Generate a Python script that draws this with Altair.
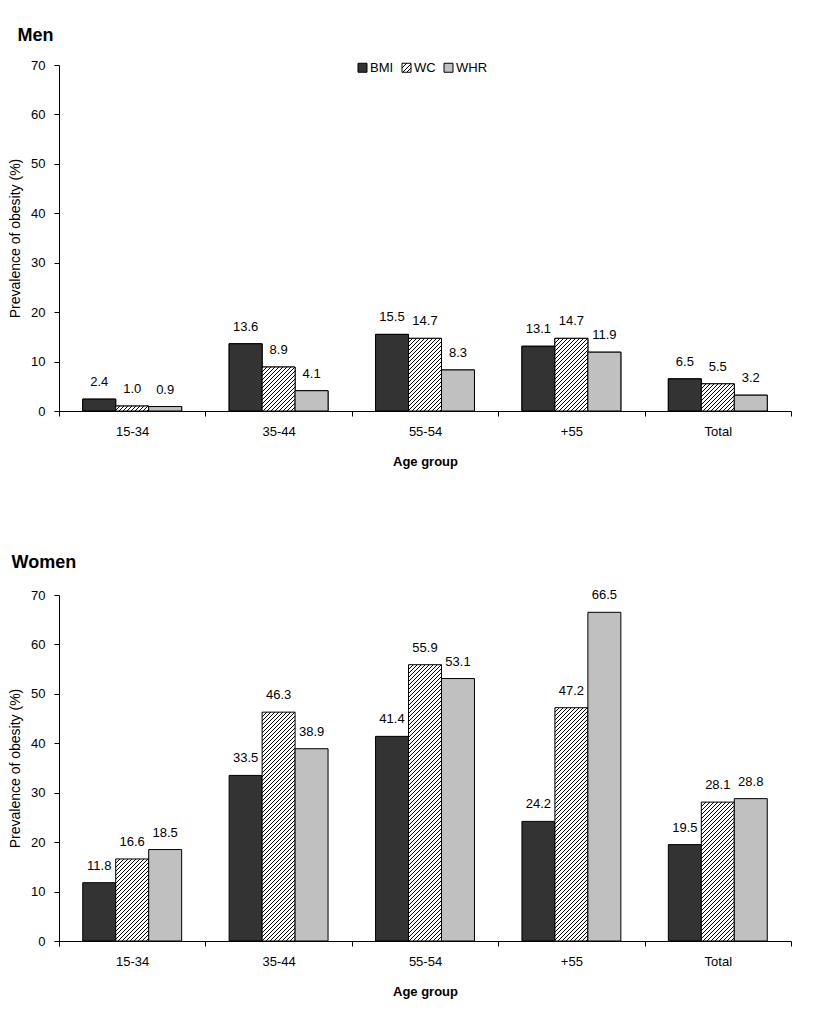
import math
import altair as alt

# ---------------- data ----------------
categories = ["15-34", "35-44", "55-54", "+55", "Total"]
metrics = ["BMI", "WC", "WHR"]

men_bmi = [2.4, 13.6, 15.5, 13.1, 6.5]
men_wc = [1.0, 8.9, 14.7, 14.7, 5.5]
men_whr = [0.9, 4.1, 8.3, 11.9, 3.2]

women_bmi = [11.8, 33.5, 41.4, 24.2, 19.5]
women_wc = [16.6, 46.3, 55.9, 47.2, 28.1]
women_whr = [18.5, 38.9, 53.1, 66.5, 28.8]

y_ticks = [0, 10, 20, 30, 40, 50, 60, 70]

# ---------------- styling ----------------
FONT = "Liberation Sans"
W, H = 732, 346
YMAX = 70
OFFSET_PAD = 0.72
BAR_W = (W / len(categories)) / (len(metrics) + 2 * OFFSET_PAD)
HATCH_STEP = 4           # px between hatch lines, measured horizontally
HATCH_INK = 0.25         # fraction of each period that is ink (about 1px)
COLORS = {"BMI": "#333333", "WC": "#ffffff", "WHR": "#c0c0c0"}


def stripes(n):
    stops = []
    for k in range(n):
        a = k / n
        b = (k + HATCH_INK) / n
        c = (k + 1) / n
        stops += [
            {"offset": a, "color": "#000000"},
            {"offset": b, "color": "#000000"},
            {"offset": b, "color": "#ffffff"},
            {"offset": c, "color": "#ffffff"},
        ]
    return stops


def hatch(value):
    # diagonal "/" hatching as a striped gradient sized to the bar's box:
    # t = (x + y) / L with L a whole number of hatch periods
    w = BAR_W
    h = max(value * H / YMAX, 0.5)
    n = math.ceil((w + h) / HATCH_STEP)
    L = n * HATCH_STEP
    c = L / (w * w + h * h)
    return {"gradient": "linear", "x1": 0, "y1": 0, "x2": w * c, "y2": h * c,
            "stops": stripes(n)}


legend_hatch = {"gradient": "linear", "id": "wcleg", "x1": 0, "y1": 0,
                "x2": 1, "y2": 1, "stops": stripes(4)}


def rows_for(bmi, wc, whr):
    rows = []
    for i, cat in enumerate(categories):
        for m, v in zip(metrics, (bmi[i], wc[i], whr[i])):
            rows.append({"category": cat, "metric": m, "value": v,
                         "paint": hatch(v) if m == "WC" else COLORS[m]})
    return rows


def panel(rows, title, dx, title_offset, with_legend):
    base = alt.Chart(alt.Data(values=rows)).encode(
        x=alt.X("category:N", sort=categories,
                scale=alt.Scale(paddingInner=0, paddingOuter=0),
                axis=alt.Axis(title="Age group", labelAngle=0, tickBand="extent",
                              tickSize=5, labelPadding=9, titlePadding=17,
                              titleFontWeight="bold", titleFontSize=13,
                              labelFontSize=13, domainColor="black",
                              tickColor="black", labelColor="black",
                              titleColor="black", grid=False)),
        xOffset=alt.XOffset("metric:N", sort=metrics,
                            scale=alt.Scale(paddingOuter=OFFSET_PAD, paddingInner=0)),
        y=alt.Y("value:Q", scale=alt.Scale(domain=[0, YMAX], nice=False),
                axis=alt.Axis(values=y_ticks, title="Prevalence of obesity (%)",
                              tickSize=5, labelPadding=9, titlePadding=8,
                              titleFontWeight="normal", titleFontSize=14,
                              labelFontSize=13, domainColor="black",
                              tickColor="black", labelColor="black",
                              titleColor="black", grid=False)),
    )
    bars = base.mark_bar(stroke="black", strokeWidth=1).encode(
        fill=alt.Fill("paint:N", scale=None))
    labels = base.mark_text(dy=-13, baseline="alphabetic", fontSize=13,
                            font=FONT, color="black").encode(
        text=alt.Text("value:Q", format=".1f"))
    layers = []
    if with_legend:
        under = base.mark_bar(stroke="black", strokeWidth=1).encode(
            fill=alt.Fill("metric:N", sort=metrics,
                          scale=alt.Scale(domain=metrics,
                                          range=["#333333", "url(#wcleg)", "#c0c0c0"]),
                          legend=alt.Legend(title=None, orient="none", legendX=297,
                                            legendY=-4, direction="horizontal",
                                            symbolType="square", symbolSize=81,
                                            symbolStrokeColor="black",
                                            symbolStrokeWidth=1, labelFontSize=13,
                                            labelFont=FONT, labelColor="black",
                                            labelOffset=1, columnPadding=6,
                                            padding=0)))
        helper = alt.Chart(alt.Data(values=[{"category": categories[-1], "metric": "WC",
                                             "value": 0, "leg": legend_hatch}])).mark_bar(
            opacity=0).encode(
            x=alt.X("category:N", sort=categories),
            xOffset=alt.XOffset("metric:N", sort=metrics),
            y=alt.Y("value:Q"),
            fill=alt.Fill("leg:N", scale=None))
        layers = [under, helper]
    layers += [bars, labels]
    return alt.layer(*layers).properties(
        width=W, height=H,
        title=alt.TitleParams(title, anchor="start", frame="bounds", fontSize=18,
                              fontWeight="bold", font=FONT, color="black",
                              dx=dx, offset=title_offset))


men = panel(rows_for(men_bmi, men_wc, men_whr), "Men", 9, 14, True)
women = panel(rows_for(women_bmi, women_wc, women_whr), "Women", 3, 17, False)

chart = alt.vconcat(men, women, spacing=86).properties(
    padding={"left": 0, "top": 19, "right": 5, "bottom": 5}
).configure(font=FONT).configure_view(strokeWidth=0)

chart.save("out.html", embed_options={"renderer": "svg", "actions": False})
